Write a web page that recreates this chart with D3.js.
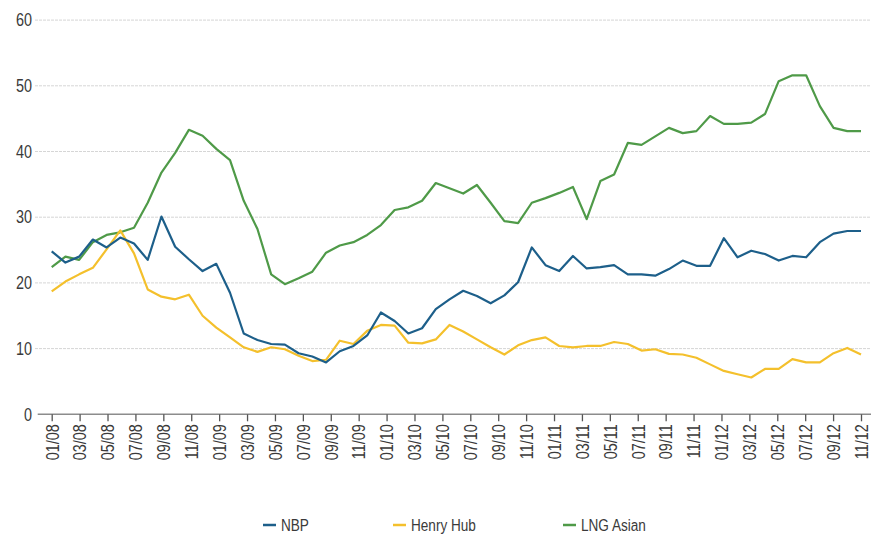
<!DOCTYPE html>
<html>
<head>
<meta charset="utf-8">
<script src="https://cdn.jsdelivr.net/npm/d3@7"></script>
<style>
  body { margin: 0; background: #fff; }
  svg text { font-family: "Liberation Sans Narrow", "Arial Narrow", "Liberation Sans", Arial, sans-serif; fill: #3a3a3a; }
</style>
</head>
<body>
<div class="chart"></div>
<script>
var svgWidth = 871;
var svgHeight = 535;

// tick labels on the x axis (every second month)
var monthLabels = ["01/08", "03/08", "05/08", "07/08", "09/08", "11/08",
    "01/09", "03/09", "05/09", "07/09", "09/09", "11/09",
    "01/10", "03/10", "05/10", "07/10", "09/10", "11/10",
    "01/11", "03/11", "05/11", "07/11", "09/11", "11/11",
    "01/12", "03/12", "05/12", "07/12", "09/12", "11/12"];

var seriesNames = ["NBP", "Henry Hub", "LNG Asian"];

var nbp = [24.8, 23.1, 24.0, 26.6, 25.4, 26.9, 26.0, 23.5, 30.1, 25.5,
    23.6, 21.8, 22.9, 18.5, 12.3, 11.3, 10.7, 10.6, 9.3, 8.8,
    7.9, 9.6, 10.4, 12.0, 15.5, 14.2, 12.3, 13.1, 16.0, 17.5,
    18.8, 18.0, 16.9, 18.1, 20.1, 25.4, 22.7, 21.8, 24.1, 22.2,
    22.4, 22.7, 21.3, 21.3, 21.1, 22.1, 23.4, 22.6, 22.6, 26.8,
    23.9, 24.9, 24.4, 23.4, 24.1, 23.9, 26.2, 27.5, 27.9, 27.9];

var henryHub = [18.7, 20.2, 21.3, 22.3, 25.1, 28.0, 24.5, 19.0, 17.9, 17.5,
    18.2, 15.0, 13.2, 11.7, 10.2, 9.5, 10.2, 9.9, 8.9, 8.1,
    8.3, 11.2, 10.7, 12.7, 13.6, 13.5, 10.9, 10.8, 11.4, 13.6,
    12.6, 11.4, 10.2, 9.1, 10.5, 11.3, 11.7, 10.4, 10.2, 10.4,
    10.4, 11.0, 10.7, 9.7, 9.9, 9.2, 9.1, 8.6, 7.6, 6.6,
    6.1, 5.6, 6.9, 6.9, 8.4, 7.9, 7.9, 9.3, 10.1, 9.1];

var lngAsian = [22.4, 24.0, 23.5, 26.2, 27.3, 27.7, 28.4, 32.2, 36.8, 39.8,
    43.3, 42.4, 40.4, 38.7, 32.5, 28.2, 21.3, 19.8, 20.7, 21.7,
    24.6, 25.7, 26.2, 27.3, 28.8, 31.1, 31.5, 32.5, 35.2, 34.4,
    33.6, 34.9, 32.2, 29.4, 29.1, 32.2, 32.9, 33.7, 34.6, 29.7,
    35.5, 36.5, 41.3, 41.0, 42.3, 43.6, 42.8, 43.1, 45.4, 44.2,
    44.2, 44.4, 45.7, 50.7, 51.6, 51.6, 46.9, 43.6, 43.1, 43.1];

var yTicks = [0, 10, 20, 30, 40, 50, 60];
var colors = ["#1d5f8a", "#f4c02c", "#4f9a48"];

// no narrow font installed, so squeeze the glyphs a bit
var squeeze = 0.8;

var svg = d3.select(".chart")
    .append("svg")
    .attr("width", svgWidth)
    .attr("height", svgHeight);

var plotLeft = 35;
var firstX = 51.7;
var lastX = 861;

// scales
var xTickScale = d3.scalePoint()
    .domain(monthLabels)
    .range([firstX, lastX]);

var xScale = d3.scaleLinear()
    .domain([0, nbp.length - 1])
    .range([firstX, lastX]);

var yScale = d3.scaleLinear()
    .domain([0, 60])
    .range([414.3, 20.1]);

// gridlines
svg.append("g")
    .selectAll("line")
    .data(yTicks.filter(d => d > 0))
    .enter()
    .append("line")
    .attr("x1", plotLeft)
    .attr("x2", svgWidth)
    .attr("y1", d => yScale(d))
    .attr("y2", d => yScale(d))
    .attr("stroke", "#d6d6d6")
    .attr("stroke-width", 1)
    .attr("stroke-dasharray", "3,1");

// y axis labels
var leftAxis = d3.axisLeft(yScale).tickValues(yTicks).tickSize(0).tickPadding(3);
var yAxisG = svg.append("g")
    .attr("transform", `translate(${plotLeft}, 0)`)
    .call(leftAxis);
yAxisG.select(".domain").remove();
yAxisG.selectAll("text")
    .style("font-size", "18px")
    .attr("x", -3 / squeeze)
    .attr("transform", `scale(${squeeze},1)`);

// x axis
svg.append("line")
    .attr("x1", 37.7)
    .attr("x2", svgWidth)
    .attr("y1", yScale(0))
    .attr("y2", yScale(0))
    .attr("stroke", "#8c8c8c")
    .attr("stroke-width", 1.5);

var bottomAxis = d3.axisBottom(xTickScale).tickSize(7).tickPadding(3);
var xAxisG = svg.append("g")
    .attr("transform", `translate(0, ${yScale(0)})`)
    .call(bottomAxis);
xAxisG.select(".domain").remove();
xAxisG.selectAll(".tick line").attr("stroke", "#555").attr("stroke-width", 1.3);
xAxisG.selectAll("text")
    .style("font-size", "18px")
    .attr("transform", `rotate(-90) scale(${squeeze},1)`)
    .attr("text-anchor", "end")
    .attr("x", -10 / squeeze)
    .attr("y", 0)
    .attr("dy", "0.35em");

// lines
var line = d3.line()
    .x((d, i) => xScale(i))
    .y(d => yScale(d));

var allSeries = [nbp, henryHub, lngAsian];
// green drawn first, blue on top
[2, 1, 0].forEach(function(k) {
    svg.append("path")
        .datum(allSeries[k])
        .attr("fill", "none")
        .attr("stroke", colors[k])
        .attr("stroke-width", 2.2)
        .attr("stroke-linejoin", "round")
        .attr("d", line);
});

// legend
var legendX = [263, 393, 563];
var legend = svg.append("g")
    .selectAll("g")
    .data(seriesNames)
    .enter()
    .append("g")
    .attr("transform", (d, i) => `translate(${legendX[i]}, 525)`);

legend.append("line")
    .attr("x1", 0)
    .attr("x2", 13)
    .attr("stroke", (d, i) => colors[i])
    .attr("stroke-width", 2.5);

legend.append("text")
    .attr("x", 18 / squeeze)
    .attr("dy", "0.35em")
    .attr("transform", `scale(${squeeze},1)`)
    .style("font-size", "17px")
    .text(d => d);
</script>
</body>
</html>
